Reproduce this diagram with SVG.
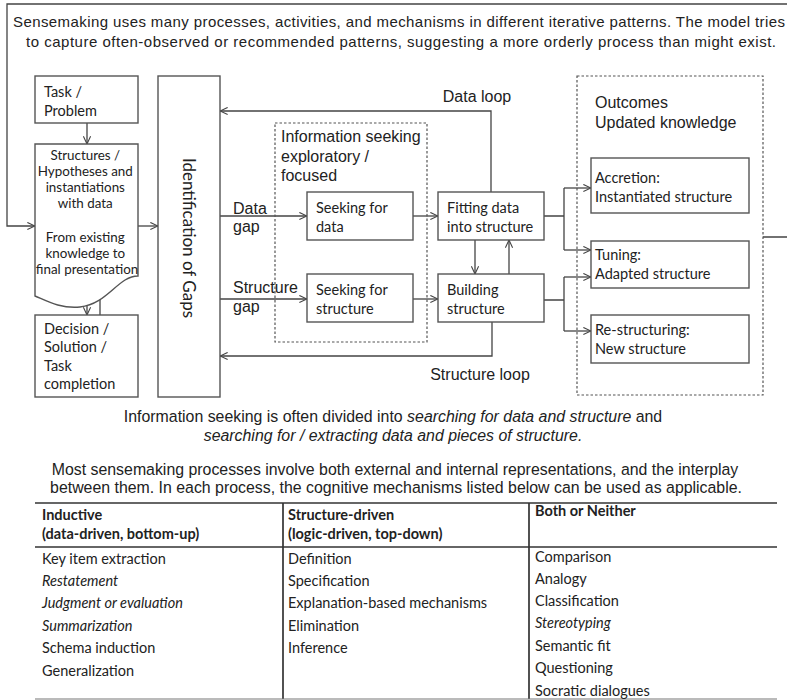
<svg xmlns="http://www.w3.org/2000/svg" width="787" height="700" viewBox="0 0 787 700">
  <defs>
    <marker id="arr" viewBox="0 0 10 10" refX="9.5" refY="5" markerWidth="9" markerHeight="9" markerUnits="userSpaceOnUse" orient="auto">
      <path d="M1,1 L9.5,5 L1,9" fill="none" stroke="#444" stroke-width="1.2"/>
    </marker>
    <style>
      .box { fill: #fff; stroke: #555; stroke-width: 1.4; }
      .dash { fill: none; stroke: #555; stroke-width: 1.2; stroke-dasharray: 2.5 2; }
      .ln { fill: none; stroke: #444; stroke-width: 1.3; }
      .ar { marker-end: url(#arr); }
      .cal { font-family: Lato, "Open Sans", sans-serif; font-size: 14.5px; fill: #222; }
      .ari { font-family: "Liberation Sans", Arial, sans-serif; font-size: 16px; fill: #222; }
      .head { font-family: "Liberation Sans", Arial, sans-serif; font-size: 15px; fill: #222; }
      .cap { font-family: "Liberation Sans", Arial, sans-serif; font-size: 17px; fill: #222; text-anchor: middle; }
      .tbl { font-family: Lato, "Open Sans", sans-serif; font-size: 14.5px; fill: #222; }
      .b { font-weight: bold; }
      .i { font-style: italic; }
      .tl { stroke: #333; stroke-width: 1.7; }
      .tl2 { stroke: #777; stroke-width: 1.1; }
    </style>
  </defs>

  <!-- heading -->
  <g id="heading">
    <text class="head" x="399" y="27" text-anchor="middle" textLength="772">Sensemaking uses many processes, activities, and mechanisms in different iterative patterns. The model tries</text>
    <text class="head" x="401" y="47" text-anchor="middle" textLength="750">to capture often-observed or recommended patterns, suggesting a more orderly process than might exist.</text>
  </g>

  <!-- connectors -->
  <g id="connectors">
    <!-- outer feedback loop -->
    <path class="ln ar" d="M763,237 H795 V4 H7 V226 H35"/>
    <path class="ln ar" d="M87,123 V144"/>
    <path class="ln ar" d="M138,226 H158"/>
    <path class="ln ar" d="M87,300 V315"/>
    <path class="ln ar" d="M100,315 V289"/>
    <!-- gaps -->
    <path class="ln ar" d="M220,216 H307"/>
    <path class="ln ar" d="M220,299 H307"/>
    <path class="ln ar" d="M413,216 H438"/>
    <path class="ln ar" d="M413,299 H438"/>
    <path class="ln ar" d="M475,240 V274"/>
    <path class="ln ar" d="M509,274 V240"/>
    <!-- loops back -->
    <path class="ln ar" d="M491,192 V111 H220"/>
    <path class="ln ar" d="M492,322 V356 H220"/>
    <!-- to outcomes -->
    <path class="ln" d="M544,216 H564 M564,188 V250 M544,300 H564 M564,277 V331"/>
    <path class="ln ar" d="M564,188 H591"/>
    <path class="ln ar" d="M564,250 H591"/>
    <path class="ln ar" d="M564,277 H591"/>
    <path class="ln ar" d="M564,331 H591"/>
  </g>

  <g id="task-problem">
    <rect class="box" x="35" y="76" width="103" height="47"/>
    <text class="cal" x="44" y="97">Task /</text>
    <text class="cal" x="44" y="116">Problem</text>
  </g>

  <g id="structures">
    <path class="box" d="M35,144 H138 V276 C118,276 108,304 80,307 C60,309 45,300 35,296 Z"/>
    <text class="cal" text-anchor="middle" style="font-size:13.4px">
      <tspan x="87" y="160">Structures /</tspan>
      <tspan x="87" y="176">Hypotheses and</tspan>
      <tspan x="87" y="192">instantiations</tspan>
      <tspan x="87" y="208">with data</tspan>
      <tspan x="87" y="242">From existing</tspan>
      <tspan x="87" y="258">knowledge to</tspan>
      <tspan x="87" y="274">final presentation</tspan>
    </text>
  </g>

  <g id="decision">
    <rect class="box" x="35" y="315" width="103" height="82"/>
    <text class="cal">
      <tspan x="44" y="334">Decision /</tspan>
      <tspan x="44" y="352">Solution /</tspan>
      <tspan x="44" y="371">Task</tspan>
      <tspan x="44" y="389">completion</tspan>
    </text>
  </g>

  <g id="identification">
    <rect class="box" x="158" y="76" width="62" height="321"/>
    <text class="cal" style="font-size:17px" text-anchor="middle" transform="translate(183,238) rotate(90)">Identification of Gaps</text>
  </g>

  <g id="gap-labels">
    <text class="ari" x="233" y="214">Data</text>
    <text class="ari" x="233" y="232">gap</text>
    <text class="ari" x="233" y="293">Structure</text>
    <text class="ari" x="233" y="312">gap</text>
  </g>

  <g id="information-seeking">
    <rect class="dash" x="275" y="123" width="152" height="219"/>
    <text class="ari" x="281" y="142">Information seeking</text>
    <text class="ari" x="281" y="162">exploratory /</text>
    <text class="ari" x="281" y="181">focused</text>
  </g>

  <g id="seeking-data">
    <rect class="box" x="307" y="192" width="106" height="48"/>
    <text class="cal" x="316" y="213">Seeking for</text>
    <text class="cal" x="316" y="232">data</text>
  </g>

  <g id="seeking-structure">
    <rect class="box" x="307" y="274" width="106" height="48"/>
    <text class="cal" x="316" y="295">Seeking for</text>
    <text class="cal" x="316" y="314">structure</text>
  </g>

  <g id="fitting">
    <rect class="box" x="438" y="192" width="106" height="48"/>
    <text class="cal" x="447" y="213">Fitting data</text>
    <text class="cal" x="447" y="232">into structure</text>
  </g>

  <g id="building">
    <rect class="box" x="438" y="274" width="106" height="48"/>
    <text class="cal" x="447" y="295">Building</text>
    <text class="cal" x="447" y="314">structure</text>
  </g>

  <g id="loop-labels">
    <text class="ari" x="477" y="102" text-anchor="middle">Data loop</text>
    <text class="ari" x="480" y="380" text-anchor="middle">Structure loop</text>
  </g>

  <g id="outcomes">
    <rect class="dash" x="577" y="76" width="186" height="319"/>
    <text class="ari" x="595" y="108">Outcomes</text>
    <text class="ari" x="595" y="128">Updated knowledge</text>
  </g>

  <g id="accretion">
    <rect class="box" x="591" y="158" width="158" height="55"/>
    <text class="cal" x="595" y="183">Accretion:</text>
    <text class="cal" x="595" y="202">Instantiated structure</text>
  </g>

  <g id="tuning">
    <rect class="box" x="591" y="241" width="158" height="47"/>
    <text class="cal" x="595" y="260">Tuning:</text>
    <text class="cal" x="595" y="279">Adapted structure</text>
  </g>

  <g id="restructuring">
    <rect class="box" x="591" y="315" width="158" height="48"/>
    <text class="cal" x="595" y="335">Re-structuring:</text>
    <text class="cal" x="595" y="354">New structure</text>
  </g>

  <!-- notes under the model, set slightly condensed -->
  <g id="notes">
    <text class="cap" transform="translate(393,422) scale(0.935,1)">Information seeking is often divided into <tspan class="i">searching for data and structure</tspan> and</text>
    <text class="cap i" transform="translate(393,441) scale(0.935,1)">searching for / extracting data and pieces of structure.</text>
    <text class="cap" transform="translate(395,475) scale(0.935,1)">Most sensemaking processes involve both external and internal representations, and the interplay</text>
    <text class="cap" transform="translate(396,493) scale(0.935,1)">between them. In each process, the cognitive mechanisms listed below can be used as applicable.</text>
  </g>

  <!-- table of cognitive mechanisms -->
  <g id="mechanisms-table">
    <line class="tl" x1="35" y1="503" x2="777" y2="503"/>
    <line class="tl" x1="35" y1="547" x2="777" y2="547"/>
    <line class="tl" x1="283" y1="503" x2="283" y2="699"/>
    <line class="tl" x1="529" y1="503" x2="529" y2="699"/>
    <line class="tl2" x1="35" y1="699" x2="777" y2="699"/>

    <text class="tbl b" x="42" y="520">Inductive</text>
    <text class="tbl b" x="42" y="539">(data-driven, bottom-up)</text>
    <text class="tbl b" x="288" y="520">Structure-driven</text>
    <text class="tbl b" x="288" y="539">(logic-driven, top-down)</text>
    <text class="tbl b" x="535" y="516">Both or Neither</text>

    <text class="tbl" x="42" y="564">Key item extraction</text>
    <text class="tbl i" x="42" y="586">Restatement</text>
    <text class="tbl i" x="42" y="608">Judgment or evaluation</text>
    <text class="tbl i" x="42" y="631">Summarization</text>
    <text class="tbl" x="42" y="653">Schema induction</text>
    <text class="tbl" x="42" y="676">Generalization</text>

    <text class="tbl" x="288" y="564">Definition</text>
    <text class="tbl" x="288" y="586">Specification</text>
    <text class="tbl" x="288" y="608">Explanation-based mechanisms</text>
    <text class="tbl" x="288" y="631">Elimination</text>
    <text class="tbl" x="288" y="653">Inference</text>

    <text class="tbl" x="535" y="562">Comparison</text>
    <text class="tbl" x="535" y="584">Analogy</text>
    <text class="tbl" x="535" y="606">Classification</text>
    <text class="tbl i" x="535" y="628">Stereotyping</text>
    <text class="tbl" x="535" y="651">Semantic fit</text>
    <text class="tbl" x="535" y="673">Questioning</text>
    <text class="tbl" x="535" y="696">Socratic dialogues</text>
  </g>
</svg>
